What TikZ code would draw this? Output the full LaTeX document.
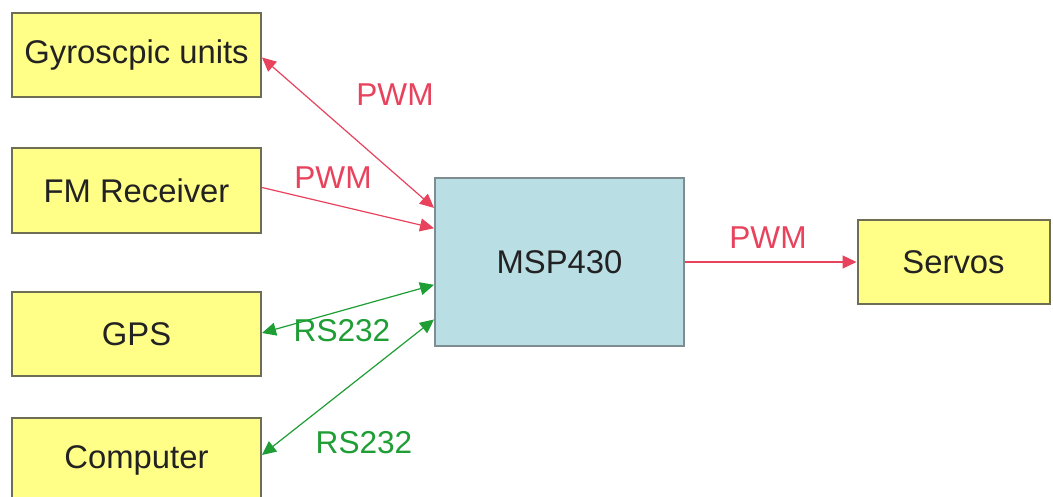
\documentclass[tikz,border=0pt]{standalone}
\usepackage{fontspec}
\setmainfont{Liberation Sans}
\usetikzlibrary{arrows.meta,calc}
\definecolor{boxyellow}{HTML}{FFFF88}
\definecolor{yellowline}{HTML}{6E6E55}
\definecolor{mspblue}{HTML}{B9DEE4}
\definecolor{mspline}{HTML}{7D8D92}
\definecolor{pwmred}{HTML}{E8425C}
\definecolor{rsgreen}{HTML}{1E9E35}
\definecolor{txt}{HTML}{222222}
\tikzset{
  unit/.style={draw=yellowline, line width=1pt, fill=boxyellow, minimum width=124.5pt, minimum height=42pt, inner sep=0pt, text=txt, font=\fontsize{16.4}{19}\selectfont},
  mcu/.style={draw=mspline, line width=1pt, fill=mspblue, minimum width=124.5pt, minimum height=83.5pt, inner sep=0pt, text=txt, font=\fontsize{16.4}{19}\selectfont},
  pwm/.style={draw=pwmred, line width=0.6pt},
  rs/.style={draw=rsgreen, line width=0.6pt},
  tip/.style={arrows={-Triangle[length=7pt,width=6.5pt]}},
  bitip/.style={arrows={Triangle[length=7pt,width=6.5pt]-Triangle[length=7pt,width=6.5pt]}},
  pwmlabel/.style={text=pwmred, font=\fontsize{15.8}{18}\selectfont, inner sep=0pt},
  rslabel/.style={text=rsgreen, font=\fontsize{15.8}{18}\selectfont, inner sep=0pt}
}
\begin{document}
\begin{tikzpicture}[x=0.5pt,y=-0.5pt]
\clip (0,0) rectangle (1053,497);
\fill[white] (0,0) rectangle (1053,497);
\node[unit] (gyro) at (136.5,55.5) {Gyroscpic units};
\node[unit] (fm) at (136.5,190.5) {FM Receiver};
\node[unit] (gps) at (136.5,334) {GPS};
\node[unit] (comp) at (136.5,460) {Computer};
\node[mcu] (msp) at (559.5,262) {MSP430};
\node[unit, minimum width=96pt] (servo) at (953.5,262) {Servos};
% connectors
\draw[pwm,bitip] ([yshift=-1pt]gyro.east) -- ($(msp.north west)!0.18!(msp.south west)$);
\draw[pwm,tip] ([yshift=1.5pt]fm.east) -- ($(msp.north west)!0.30!(msp.south west)$);
\draw[rs,bitip] ([yshift=0.5pt]gps.east) -- ($(msp.north west)!0.635!(msp.south west)$);
\draw[rs,bitip] ([yshift=2.5pt]comp.east) -- ($(msp.north west)!0.84!(msp.south west)$);
\draw[pwm,tip] (msp.east) -- (servo.west);
% labels
\node[pwmlabel] (l1) at (395,95) {PWM};
\node[pwmlabel] (l2) at (333,178) {PWM};
\node[rslabel] (l3) at (342,331) {RS232};
\node[rslabel] (l4) at (364,443) {RS232};
\node[pwmlabel] (l5) at (768,238) {PWM};
\end{tikzpicture}
\end{document}
